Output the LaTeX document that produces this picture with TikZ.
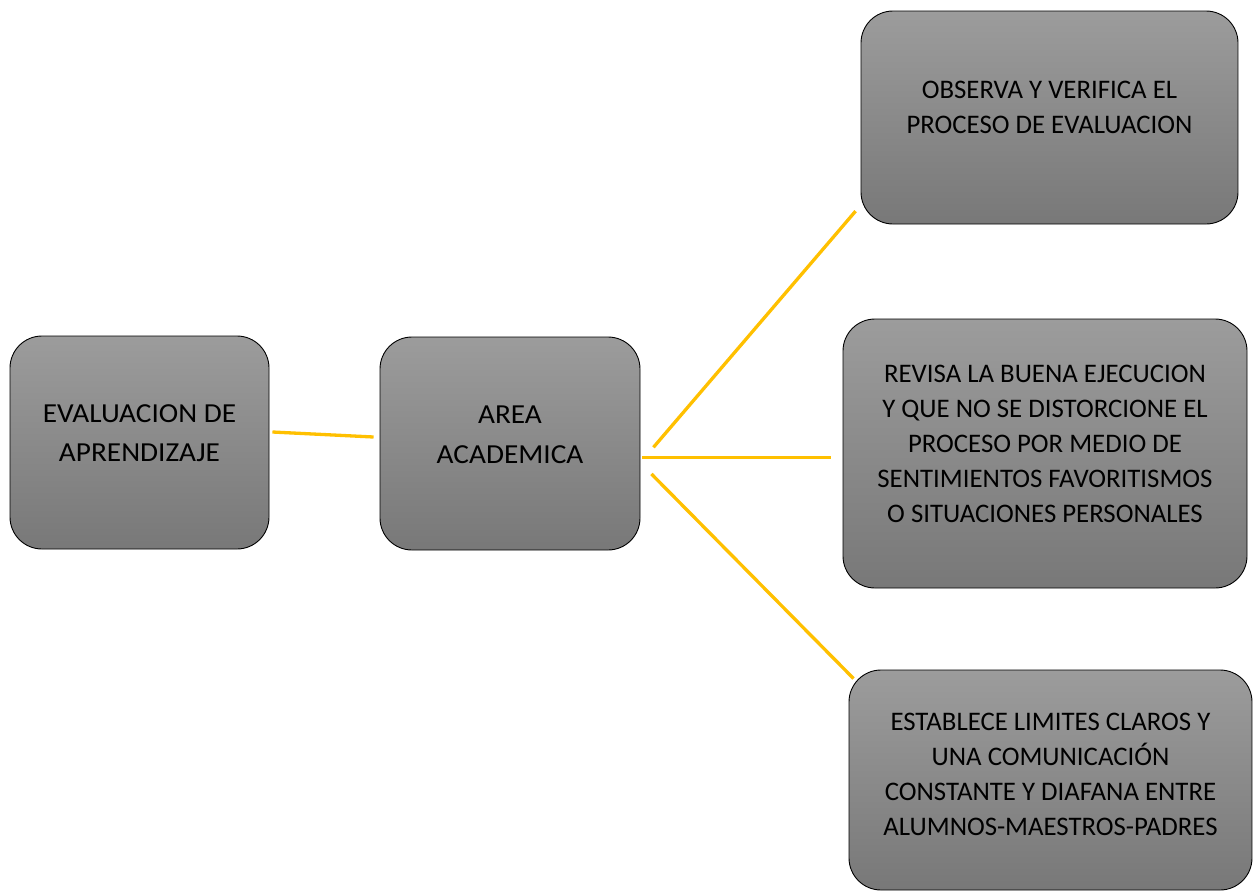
\documentclass[tikz,border=0pt]{standalone}
\usepackage{fontspec}
\setmainfont{Carlito}
\usepackage{xcolor}
\usepackage{tikz}
\usetikzlibrary{positioning,calc}
\definecolor{boxtop}{RGB}{156,156,156}
\definecolor{boxbottom}{RGB}{120,120,120}
\definecolor{linkyellow}{RGB}{255,192,0}

\begin{document}
\begin{tikzpicture}[x=1pt, y=-1pt, node distance=40pt,
    box/.style={draw=black, line width=0.9pt, rounded corners=32pt, top color=boxtop, bottom color=boxbottom, inner sep=0pt},
    txt/.style={font=\fontsize{26.8}{35}\selectfont, align=center, inner sep=0pt},
    bigtxt/.style={txt, font=\fontsize{27.5}{39.3}\selectfont\addfontfeature{FakeStretch=1.065}},
    link/.style={draw=linkyellow, line width=3.3pt}]
    \fill[white] (0,0) rectangle (1253,892);
    \useasboundingbox (0,0) rectangle (1253,892);
    \node[box, minimum width=259pt, minimum height=213pt] (eval) at (139.5,442.5) {};
    \node[box, minimum width=260pt, minimum height=213pt] (area) at (510,443.5) {};
    \node[box, minimum width=377pt, minimum height=213pt] (observa) at (1049.5,117.5) {};
    \node[box, minimum width=404pt, minimum height=269pt] (revisa) at (1045,453.5) {};
    \node[box, minimum width=403pt, minimum height=220pt] (establece) at (1050.5,780) {};
    \node[bigtxt, below=68.5pt of eval.north] (evalt) {EVALUACION DE\\APRENDIZAJE};
    \node[bigtxt, below=69.5pt of area.north] (areat) {AREA\\ACADEMICA};
    \node[txt, below=70pt of observa.north] (observat) {OBSERVA Y VERIFICA EL\\PROCESO DE EVALUACION};
    \node[txt, below=46pt of revisa.north] (revisat) {REVISA LA BUENA EJECUCION\\Y QUE NO SE DISTORCIONE EL\\PROCESO POR MEDIO DE\\SENTIMIENTOS FAVORITISMOS\\O SITUACIONES PERSONALES};
    \node[txt, below=43pt of establece.north] (establecet) {ESTABLECE LIMITES CLAROS Y\\UNA COMUNICACIÓN\\CONSTANTE Y DIAFANA ENTRE\\ALUMNOS-MAESTROS-PADRES};
    \draw[link] ([shift={(3,-10.5)}]eval.east) -- ([shift={(-6,-6.5)}]area.west);
    \draw[link] ([shift={(13,3.8)}]area.east) -- ([shift={(-5,-13.3)}]observa.south west);
    \draw[link] ([shift={(2,13.8)}]area.east) -- ([shift={(-12,3.8)}]revisa.west);
    \draw[link] ([shift={(11,30.5)}]area.east) -- ([shift={(5,9)}]establece.north west);
\end{tikzpicture}
\end{document}
